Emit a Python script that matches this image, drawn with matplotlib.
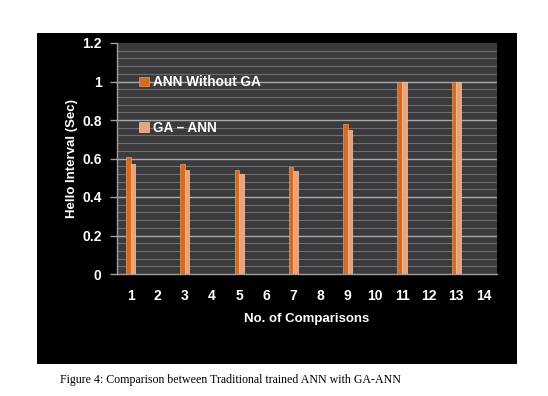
import numpy as np
import matplotlib
matplotlib.use("Agg")
import matplotlib.pyplot as plt
from matplotlib.patches import Rectangle

comparisons = list(range(1, 15))
ann_without_ga = [0.61, np.nan, 0.57, np.nan, 0.54, np.nan, 0.555, np.nan, 0.78, np.nan, 1.0, np.nan, 1.0, np.nan]
ga_ann = [0.57, np.nan, 0.54, np.nan, 0.52, np.nan, 0.535, np.nan, 0.75, np.nan, 1.0, np.nan, 1.0, np.nan]
y_ticks = [0, 0.2, 0.4, 0.6, 0.8, 1, 1.2]
y_labels = ["0", "0.2", "0.4", "0.6", "0.8", "1", "1.2"]

plt.rcParams["font.family"] = ["Liberation Sans", "DejaVu Sans"]

fig = plt.figure(figsize=(5.48, 3.96), dpi=100, facecolor="white")
W, H = 548, 396

# black chart box
fig.patches.append(Rectangle((37 / W, 1 - 364 / H), 480 / W, 331 / H,
                             transform=fig.transFigure, facecolor="black",
                             edgecolor="none", zorder=-5))

ax = fig.add_axes([117 / W, 1 - 274 / H, 380 / W, 231 / H])
ax.set_zorder(5)
ax.set_facecolor("#3b3b3d")

x = np.array(comparisons)
w = 0.17
ax.bar(x - w / 2, ann_without_ga, width=w, color="#d66a1e", edgecolor="#f09a50",
       linewidth=0.5, label="ANN Without GA", zorder=3)
ax.bar(x + w / 2, ga_ann, width=w, color="#eaa27a", edgecolor="#f6c8a8",
       linewidth=0.5, label="GA \u2013 ANN", zorder=3)

ax.set_xlim(0.5, 14.5)
ax.set_ylim(0, 1.2)

# gridlines
for v in np.arange(0.04, 1.2, 0.04):
    ax.axhline(v, color="#6e6e72", linewidth=0.8, zorder=1)
for v in y_ticks[1:-1]:
    ax.axhline(v, color="#a8a8a8", linewidth=1.0, zorder=2)

ax.set_yticks(y_ticks)
ax.set_yticklabels(y_labels)
ax.set_xticks(comparisons)
ax.set_xticklabels([str(c) for c in comparisons])

for s in ["top", "right"]:
    ax.spines[s].set_visible(False)
for s in ["left", "bottom"]:
    ax.spines[s].set_color("#a0a0a0")
    ax.spines[s].set_linewidth(1.0)

ax.tick_params(axis="y", colors="#a0a0a0", length=5, width=1, pad=6,
               labelcolor="white", labelsize=10)
ax.tick_params(axis="x", length=0, pad=11, labelcolor="white", labelsize=10)
for lbl in ax.get_xticklabels() + ax.get_yticklabels():
    lbl.set_fontweight("bold")

ax.set_ylabel("Hello Interval (Sec)", color="white", fontsize=9.5,
              fontweight="bold", labelpad=3)
ax.set_xlabel("No. of Comparisons", color="white", fontsize=9.5,
              fontweight="bold", labelpad=7)

leg = ax.legend(loc="upper left", bbox_to_anchor=(0.04, 0.89), frameon=False,
                handlelength=0.7, handleheight=0.7, handletextpad=0.3,
                labelspacing=2.3, borderpad=0, fontsize=9.8)
for t in leg.get_texts():
    t.set_color("white")
    t.set_fontweight("bold")

fig.text(60 / W, 1 - 380 / H,
         "Figure 4: Comparison between Traditional trained ANN with GA-ANN",
         family="Liberation Serif", fontsize=8.6, va="center", ha="left")

fig.savefig("out.png", dpi=100, facecolor="white")
